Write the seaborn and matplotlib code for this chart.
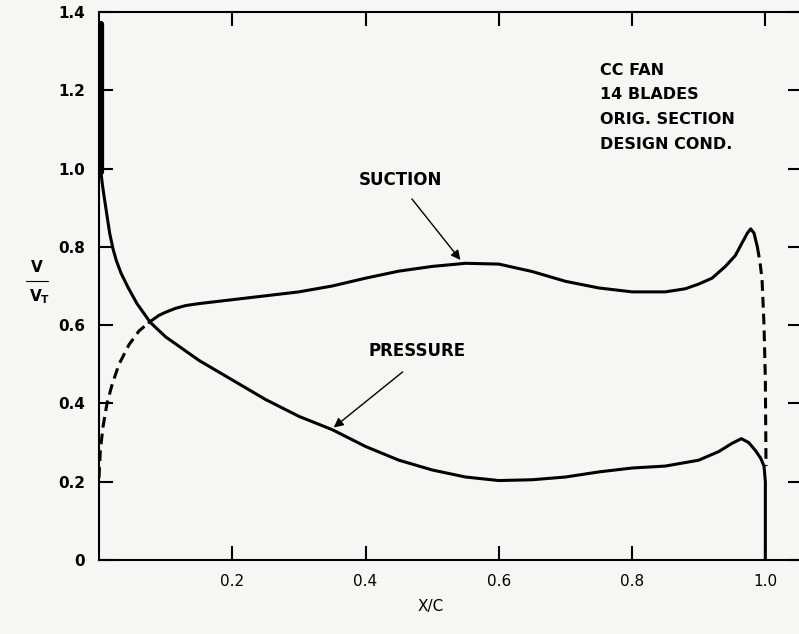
import numpy as np
import matplotlib
matplotlib.use('Agg')
import matplotlib.pyplot as plt
import seaborn as sns
from matplotlib.lines import Line2D

# suction surface, leading edge part (dashed)
suction_le_x = [0.0, 0.002, 0.006, 0.012, 0.02, 0.03, 0.045, 0.06, 0.075]
suction_le_y = [0.21, 0.28, 0.34, 0.40, 0.45, 0.50, 0.55, 0.585, 0.607]

# suction surface, solid part
suction_x = [0.075, 0.09, 0.10, 0.115, 0.13, 0.15, 0.2, 0.25, 0.3, 0.35, 0.4, 0.45,
             0.5, 0.55, 0.6, 0.65, 0.7, 0.75, 0.8, 0.85, 0.88, 0.9, 0.92, 0.94,
             0.955, 0.965, 0.973, 0.978, 0.983, 0.988]
suction_y = [0.607, 0.625, 0.633, 0.643, 0.65, 0.655, 0.665, 0.675, 0.685, 0.70, 0.72, 0.738,
             0.75, 0.758, 0.756, 0.737, 0.712, 0.695, 0.685, 0.685, 0.693, 0.705, 0.72, 0.75,
             0.778, 0.81, 0.835, 0.846, 0.835, 0.80]

# suction surface, trailing edge part (dashed)
suction_te_x = [0.988, 0.992, 0.995, 0.998, 1.0, 1.001]
suction_te_y = [0.80, 0.76, 0.718, 0.60, 0.46, 0.24]

# pressure surface
pressure_x = [0.003, 0.003, 0.005, 0.008, 0.012, 0.016, 0.021, 0.026, 0.033, 0.044,
              0.057, 0.077, 0.1, 0.12, 0.15, 0.2, 0.25, 0.3, 0.35, 0.4, 0.45,
              0.5, 0.55, 0.6, 0.65, 0.7, 0.75, 0.8, 0.85, 0.9, 0.93, 0.95, 0.964,
              0.975, 0.985, 0.993, 0.998, 1.0, 1.0]
pressure_y = [1.37, 0.99, 0.96, 0.925, 0.88, 0.835, 0.795, 0.765, 0.733, 0.695,
              0.655, 0.607, 0.57, 0.546, 0.51, 0.46, 0.41, 0.367, 0.333, 0.29, 0.255,
              0.23, 0.212, 0.203, 0.205, 0.212, 0.225, 0.235, 0.24, 0.255, 0.277, 0.298, 0.31,
              0.30, 0.28, 0.26, 0.24, 0.2, 0.0]

x_ticks = [0.2, 0.4, 0.6, 0.8, 1.0]
x_tick_labels = ['0.2', '0.4', '0.6', '0.8', '1.0']
y_ticks = [0, 0.2, 0.4, 0.6, 0.8, 1.0, 1.2, 1.4]
y_tick_labels = ['0', '0.2', '0.4', '0.6', '0.8', '1.0', '1.2', '1.4']

case_lines = ['CC FAN', '14 BLADES', 'ORIG. SECTION', 'DESIGN COND.']

sns.set_style('ticks')
plt.rcParams['font.family'] = ['DejaVu Sans']
plt.rcParams['text.color'] = 'black'

bg = '#f6f6f4'
W, H = 799, 634
fig = plt.figure(figsize=(W / 100, H / 100), dpi=100, facecolor=bg)
# right spine sits just past the picture edge, as in the scan
ax = fig.add_axes([99 / W, 74 / H, 703 / W, 548 / H], facecolor=bg)

dash = (0, (3.5, 2))
lw = 2.2
sns.lineplot(x=suction_le_x, y=suction_le_y, ax=ax, color='black', linewidth=lw,
             sort=False, estimator=None)
ax.lines[-1].set_linestyle(dash)
sns.lineplot(x=suction_x, y=suction_y, ax=ax, color='black', linewidth=lw,
             sort=False, estimator=None)
sns.lineplot(x=suction_te_x, y=suction_te_y, ax=ax, color='black', linewidth=lw,
             sort=False, estimator=None)
ax.lines[-1].set_linestyle(dash)
sns.lineplot(x=pressure_x, y=pressure_y, ax=ax, color='black', linewidth=lw,
             sort=False, estimator=None)
# thick leading edge stroke
sns.lineplot(x=pressure_x[:2], y=pressure_y[:2], ax=ax, color='black', linewidth=4.5,
             sort=False, estimator=None)

ax.set_xlim(0, 1.055)
ax.set_ylim(0, 1.4)
ax.set_xticks(x_ticks)
ax.set_xticklabels(x_tick_labels, fontsize=11)
ax.set_yticks(y_ticks)
ax.set_yticklabels(y_tick_labels, fontsize=11, fontweight='bold')
ax.tick_params(direction='in', length=10, width=1.5, top=True, right=True,
               labeltop=False, labelright=False, pad=10, colors='black')
for s in ax.spines.values():
    s.set_linewidth(1.5)
    s.set_color('black')
ax.set_xlabel('')
ax.set_ylabel('')

# labels with arrows
ax.text(0.452, 0.972, 'SUCTION', ha='center', va='center', fontsize=12, fontweight='bold')
ax.annotate('', xy=(0.545, 0.761), xytext=(0.467, 0.928),
            arrowprops=dict(arrowstyle='-|>', lw=1, color='black', mutation_scale=14))
ax.text(0.477, 0.533, 'PRESSURE', ha='center', va='center', fontsize=12, fontweight='bold')
ax.annotate('', xy=(0.349, 0.334), xytext=(0.459, 0.485),
            arrowprops=dict(arrowstyle='-|>', lw=1, color='black', mutation_scale=14))

for i, t in enumerate(case_lines):
    ax.text(0.752, 1.251 - i * 0.0628, t, ha='left', va='center', fontsize=11.5,
            fontweight='bold')

# axis titles
fig.text(431 / W, 1 - 607 / H, 'X/C', ha='center', va='center', fontsize=11)
fig.text(37 / W, 1 - 268 / H, 'V', ha='center', va='center', fontsize=11, fontweight='bold')
fig.text(40 / W, 1 - 297 / H, 'V$_\\mathregular{T}$', ha='center', va='center',
         fontsize=11, fontweight='bold')
fig.lines.append(Line2D([26 / W, 48 / W], [1 - 281 / H, 1 - 281 / H],
                        transform=fig.transFigure, color='black', lw=0.8))

fig.savefig('out.png', dpi=100, facecolor=bg)
